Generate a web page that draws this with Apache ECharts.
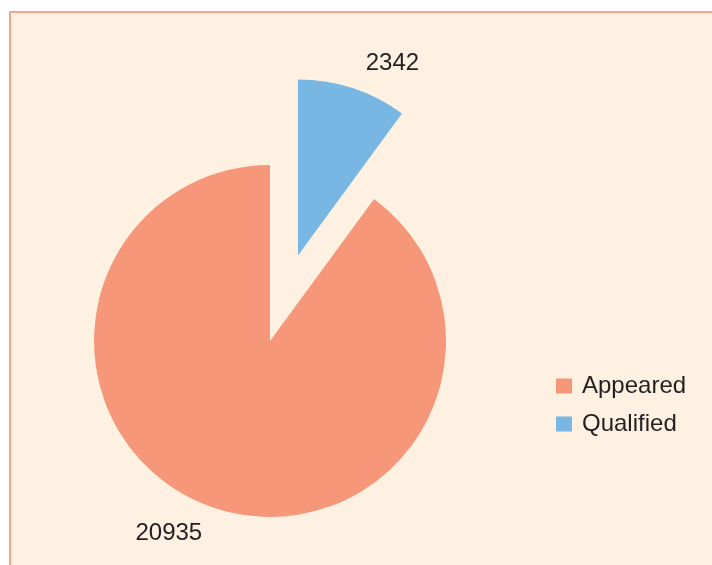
<!DOCTYPE html>
<html>
<head>
<meta charset="utf-8">
<script src="https://cdn.jsdelivr.net/npm/echarts@6/dist/echarts.min.js"></script>
<style>
    html, body { margin: 0; padding: 0; background: #fff; }
    #frame {
        position: absolute; left: 9px; top: 11px; right: 0; bottom: 0;
        background: #FFF1E2;
        border-left: 2px solid #F4A58A;
        border-top: 2px solid #F4A58A;
    }
    #main { position: absolute; left: 0; top: 0; width: 712px; height: 565px; }
</style>
</head>
<body>
<div id="frame"></div>
<div id="main"></div>
<script>
// slice order follows the picture: Qualified starts at 12 o'clock
var categories = ['Qualified', 'Appeared'];
var values = [2342, 20935];
var colors = ['#78B6E4', '#F59778'];
var legendOrder = ['Appeared', 'Qualified'];

var myChart = echarts.init(document.getElementById('main'));

var pieData = [];
for (var i = 0; i < categories.length; i++) {
    pieData.push({
        name: categories[i],
        value: values[i],
        selected: categories[i] === 'Qualified',
        itemStyle: { color: colors[i] }
    });
}

var option = {
    animation: false,
    backgroundColor: 'transparent',
    textStyle: { fontFamily: 'Liberation Sans, Arial, sans-serif' },
    legend: {
        orient: 'vertical',
        left: 556,
        top: 374,
        padding: 0,
        icon: 'rect',
        itemWidth: 16,
        itemHeight: 15,
        itemGap: 14,
        data: legendOrder,
        selectedMode: false,
        textStyle: {
            fontSize: 24,
            color: '#231F20',
            padding: [0, 0, 0, 5]
        }
    },
    series: [{
        name: 'count',
        type: 'pie',
        center: [270, 341],
        radius: 176,
        startAngle: 90,
        clockwise: true,
        selectedMode: 'single',
        selectedOffset: 90,
        avoidLabelOverlap: false,
        emphasis: { disabled: true },
        label: {
            show: true,
            position: 'outside',
            formatter: '{c}',
            fontSize: 24,
            color: '#231F20'
        },
        labelLine: {
            show: false,
            length: 26,
            length2: 0
        },
        data: pieData
    }]
};

myChart.setOption(option);
window.onresize = function () {
    myChart.resize();
};
</script>
</body>
</html>
